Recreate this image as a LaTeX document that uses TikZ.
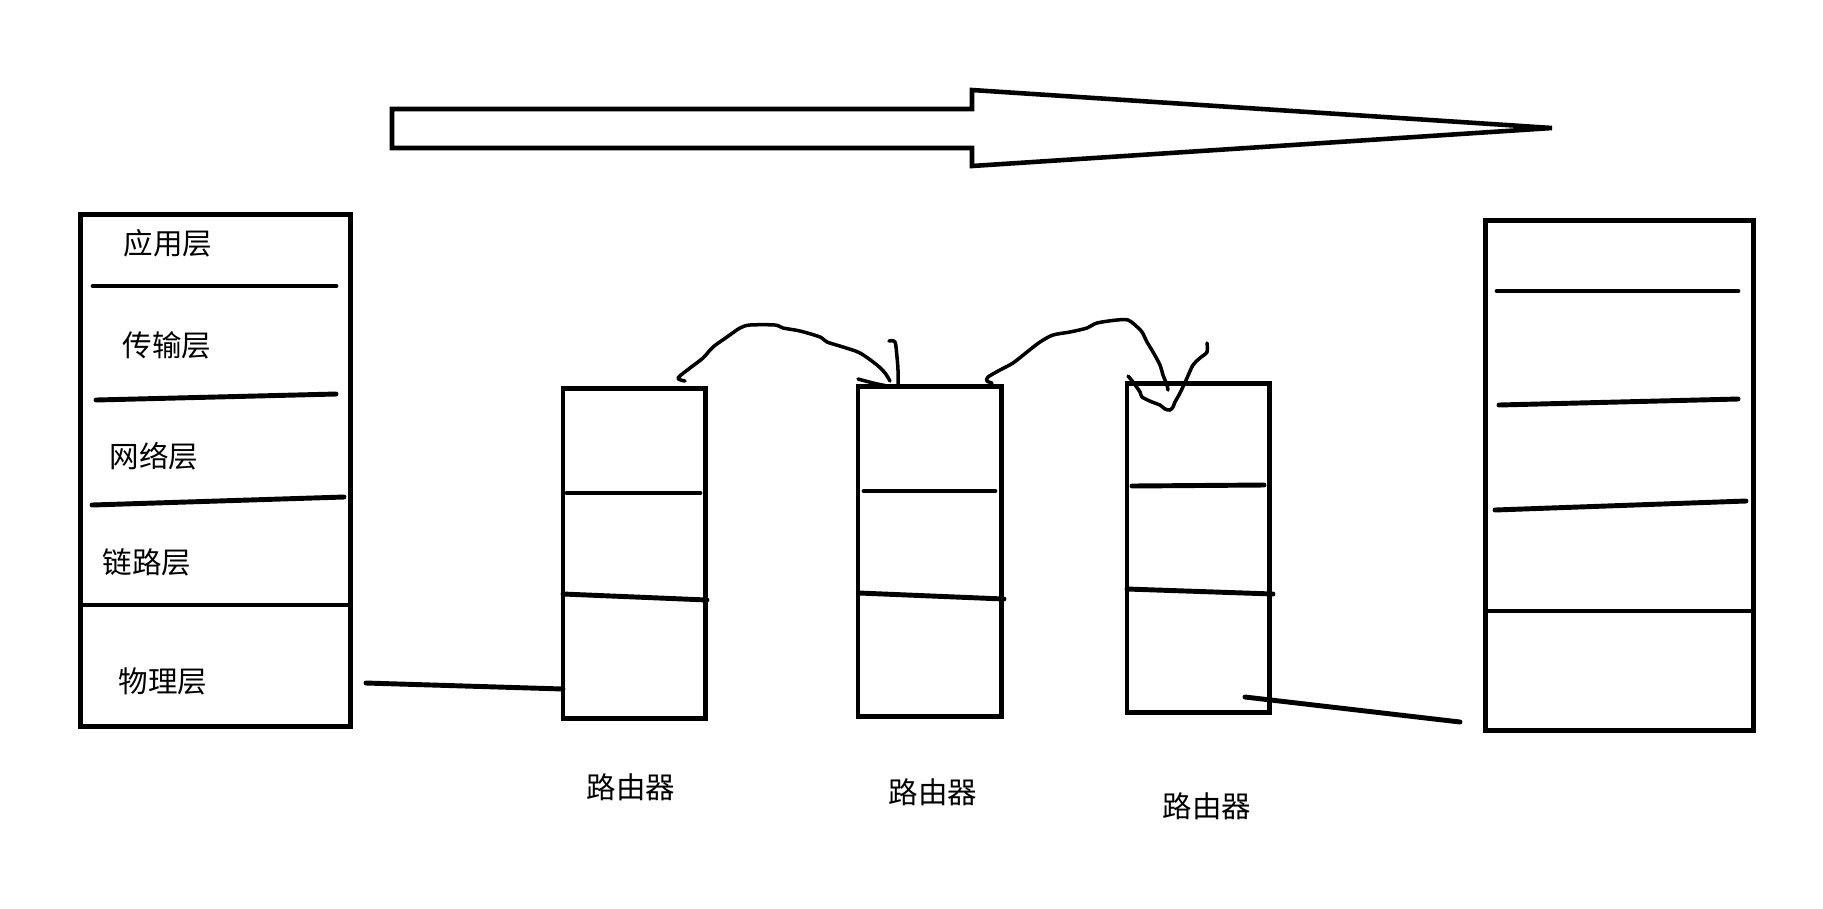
\documentclass[tikz,border=0pt]{standalone}
\usepackage{fontspec}
\newfontfamily\cjk{Noto Sans CJK SC}
\begin{document}
\begin{tikzpicture}[x=0.01cm,y=-0.01cm,
  box/.style={draw, line width=1.4pt, inner sep=0pt, outer sep=0pt, rectangle},
  pen/.style={line width=1.4pt, line cap=round, line join=round},
  stroke/.style={line width=1pt, line cap=round, line join=round},
  lbl/.style={font=\cjk\fontsize{8.4}{10}\selectfont, inner sep=0pt}]
\useasboundingbox[fill=white] (0,0) rectangle (1823,908);

% big arrow
\draw[line width=1.3pt, line join=miter] (392,109) -- (972,109) -- (972,90) -- (1552,128) -- (972,166) -- (972,148) -- (392,148) -- cycle;

% left stack
\node[box, minimum width=2.69cm, minimum height=5.11cm] (L) at (215.5,470.5) {};
\draw[line width=1.4pt] (81,605) -- (350,605);
\draw[pen] (93,286) -- (336,286);
\draw[pen] (96,400) -- (336,394);
\draw[pen] (92,505) -- (344,497);
\node[lbl] (t1) at (168,243) {应用层};
\node[lbl] (t2) at (167,345) {传输层};
\node[lbl] (t3) at (154,456) {网络层};
\node[lbl] (t4) at (147,562) {链路层};
\node[lbl] (t5) at (163,681) {物理层};

% right stack
\node[box, minimum width=2.67cm, minimum height=5.09cm] (R) at (1619.5,475.5) {};
\draw[line width=1.4pt] (1486,611) -- (1753,611);
\draw[pen] (1497,291) -- (1738,291);
\draw[pen] (1499,405) -- (1738,399);
\draw[pen] (1495,510) -- (1746,501);

% routers
\node[box, minimum width=1.42cm, minimum height=3.29cm] (R1) at (634,553.5) {};
\draw[pen] (567,493) -- (700,493);
\draw[pen] (563,594) -- (707,600);
\node[box, minimum width=1.43cm, minimum height=3.29cm] (R2) at (929.5,551.5) {};
\draw[pen] (864,491) -- (995,491);
\draw[pen] (859,593) -- (1004,599);
\node[box, minimum width=1.42cm, minimum height=3.28cm] (R3) at (1198,548) {};
\draw[pen] (1132,486) -- (1264,485);
\draw[pen] (1127,589) -- (1273,594);

\node[lbl] (r1) at (631,787) {路由器};
\node[lbl] (r2) at (933,792) {路由器};
\node[lbl] (r3) at (1207,806) {路由器};

% physical links
\coordinate (a1) at (366,683);
\coordinate (a2) at (R1.west |- 0,689);
\draw[pen] (a1) -- (a2);
\coordinate (b1) at (1245,697);
\coordinate (b2) at (1460,722);
\draw[pen] (b1) -- (b2);

% hand-drawn hops
\draw[stroke] plot[smooth, tension=0.5] coordinates {(685,381) (678,378) (690,368) (703,358) (713,347) (727,337) (740,328) (750,325) (775,325) (783,328) (800,331) (820,337) (827,342) (843,347) (860,353) (877,365) (885,373) (890,381)};
\draw[stroke] plot[smooth, tension=0.5] coordinates {(858,379) (873,383) (887,386)};
\draw[stroke] plot[smooth, tension=0.5] coordinates {(889,341) (895,342) (897,357) (898,370) (898,387)};
\draw[stroke] plot[smooth, tension=0.5] coordinates {(992,383) (987,381) (988,377) (1000,370) (1013,363) (1027,352) (1040,342) (1053,335) (1070,332) (1087,328) (1097,323) (1117,320) (1128,320) (1135,325) (1142,332) (1147,342) (1153,352) (1160,365) (1163,375) (1167,385) (1168,390)};
\draw[stroke] plot[smooth, tension=0.5] coordinates {(1128,376) (1133,382) (1140,392) (1142,397) (1152,402) (1160,405) (1165,409) (1170,410) (1173,407) (1175,402) (1180,393) (1187,378) (1193,365) (1200,358) (1207,352) (1207,343)};
\end{tikzpicture}
\end{document}
